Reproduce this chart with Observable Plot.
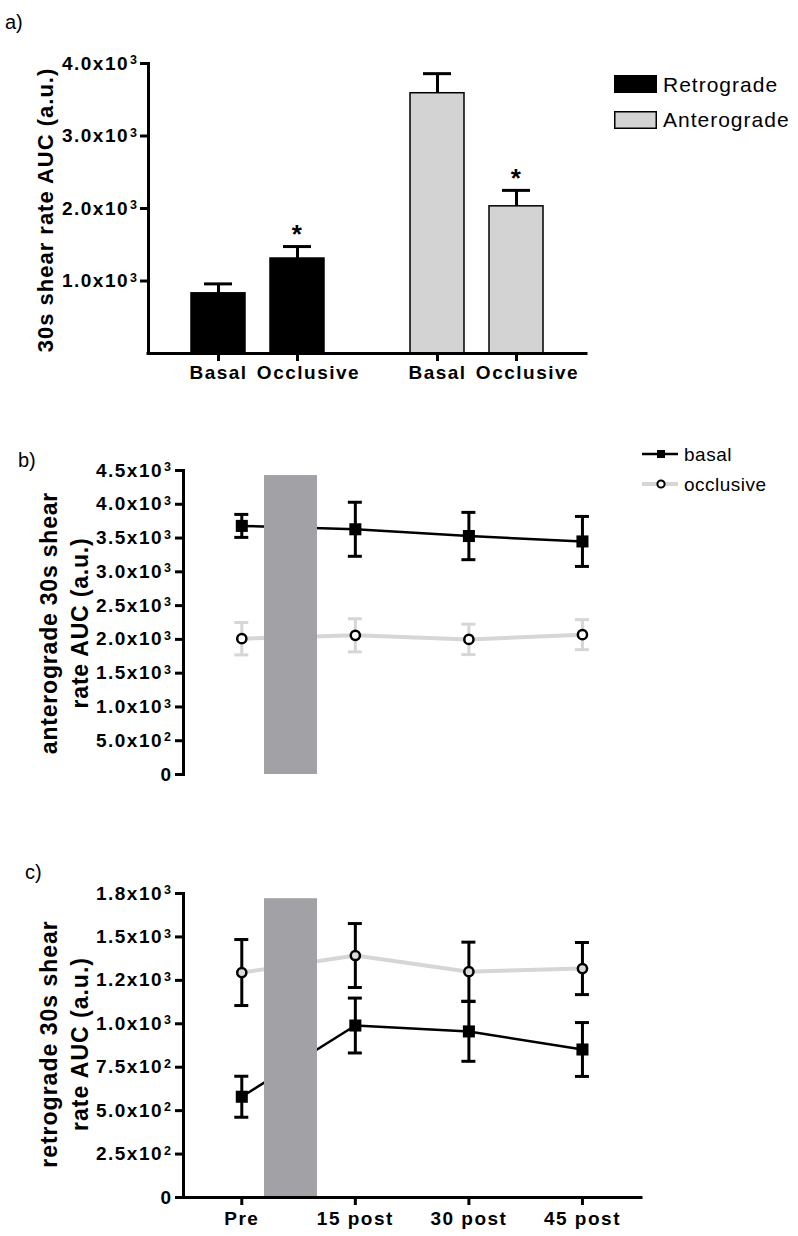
<!DOCTYPE html>
<html><head><meta charset="utf-8">
<script src="https://cdn.jsdelivr.net/npm/d3@7"></script>
<script src="https://cdn.jsdelivr.net/npm/@observablehq/plot@0.6"></script>
<style>
body{margin:0;background:#fff;}
#root{position:relative;width:798px;height:1236px;font-family:"Liberation Sans",Arial,sans-serif;color:#000;overflow:hidden;background:#fff}
#root svg{position:absolute;overflow:visible}
.txt{position:absolute;white-space:nowrap;line-height:1}
</style></head><body><div id="root"></div>
<script>
// ---------- Panel a data ----------
const barGroups = ["Retrograde", "Anterograde"];
const barConditions = ["Basal", "Occlusive"];
const barGroup = ["Retrograde", "Retrograde", "Anterograde", "Anterograde"];
const barCondition = ["Basal", "Occlusive", "Basal", "Occlusive"];
const barMean = [830, 1310, 3590, 2030];
const barSEM = [130, 165, 270, 220];
const barSignificant = [false, true, false, true];
const barColors = ["#000000", "#d3d3d3"];
const yTicksA = [1000, 2000, 3000, 4000];
const yTickLabelsA = ["1.0x10³", "2.0x10³", "3.0x10³", "4.0x10³"];

// ---------- Panels b, c data ----------
const timePoints = [0, 15, 30, 45];
const timeLabels = ["Pre", "15 post", "30 post", "45 post"];
const occlusionWindow = [3, 10];

const anteroBasalMean = [3680, 3630, 3530, 3450];
const anteroBasalSEM = [170, 400, 350, 370];
const anteroOcclMean = [2010, 2060, 2000, 2070];
const anteroOcclSEM = [240, 245, 225, 222];
const anteroShadeTop = 4425;
const yTicksB = [0, 500, 1000, 1500, 2000, 2500, 3000, 3500, 4000, 4500];
const yTickLabelsB = ["0", "5.0x10²", "1.0x10³", "1.5x10³", "2.0x10³", "2.5x10³", "3.0x10³", "3.5x10³", "4.0x10³", "4.5x10³"];

const retroBasalMean = [580, 990, 956, 852];
const retroBasalSEM = [118, 158, 172, 155];
const retroOcclMean = [1295, 1393, 1300, 1318];
const retroOcclSEM = [190, 184, 170, 150];
const retroShadeTop = 1720;
const yTicksC = [0, 250, 500, 750, 1000, 1250, 1500, 1750];
const yTickLabelsC = ["0", "2.5x10²", "5.0x10²", "7.5x10²", "1.0x10³", "1.2x10³", "1.5x10³", "1.8x10³"];

const root = document.getElementById("root");
const SVGNS = "http://www.w3.org/2000/svg";
const FONT = '"Liberation Sans", Arial, sans-serif';
const axisStyle = {fontFamily: FONT, fontSize: "19px", fontWeight: "bold", letterSpacing: "1.5px", background: "transparent", color: "#000", overflow: "visible"};
const TICK_FONT = 19;

function place(el, left, top) { el.style.left = left + "px"; el.style.top = top + "px"; root.appendChild(el); return el; }
function text(str, left, cy, size, opts = {}) {
  const d = document.createElement("div");
  d.className = "txt";
  d.textContent = str;
  d.style.fontSize = size + "px";
  if (opts.bold) d.style.fontWeight = "bold";
  if (opts.spacing) d.style.letterSpacing = opts.spacing + "px";
  return place(d, left, cy - size / 2);
}
function vlabel(lines, cx, cy, size, lh, spacing) {
  const d = document.createElement("div");
  d.style.cssText = `position:absolute;left:${cx}px;top:${cy}px;transform:translate(-50%,-50%) rotate(-90deg);white-space:nowrap;text-align:center;font-weight:bold;font-size:${size}px;line-height:${lh}px;letter-spacing:${spacing}px`;
  lines.forEach((l, i) => { if (i) d.appendChild(document.createElement("br")); d.appendChild(document.createTextNode(l)); });
  root.appendChild(d);
}
// turn "4.0x10³" tick labels into a base + raised exponent, as in the original figure
function superscripts(svg) {
  svg.querySelectorAll("text").forEach(t => {
    const m = t.textContent.match(/^(.*x10)([²³])$/);
    if (!m) return;
    t.textContent = "";
    const base = document.createElementNS(SVGNS, "tspan");
    base.textContent = m[1];
    const sup = document.createElementNS(SVGNS, "tspan");
    sup.textContent = m[2] === "²" ? "2" : "3";
    sup.setAttribute("font-size", "12.5");
    sup.setAttribute("dy", "-5.5");
    sup.setAttribute("dx", "1");
    t.appendChild(base); t.appendChild(sup);
  });
  return svg;
}

// ---------- Panel a ----------
const barData = barGroup.map((g, i) => ({group: g, condition: barCondition[i], mean: barMean[i], sem: barSEM[i], sig: barSignificant[i]}));
const labelMapA = new Map(yTicksA.map((t, i) => [t, yTickLabelsA[i]]));
const plotA = Plot.plot({
  width: 600, height: 360,
  marginLeft: 147, marginRight: 14, marginTop: 23, marginBottom: 47,
  style: axisStyle,
  fx: {domain: barGroups, padding: 0, axis: null},
  x: {domain: barConditions, paddingInner: 0.3125, paddingOuter: 0.53},
  y: {domain: [0, 4000]},
  color: {domain: barGroups, range: barColors},
  marks: [
    Plot.barY(barData, {fx: "group", x: "condition", y: "mean", fill: "group", stroke: "#000", strokeWidth: 1.5}),
    Plot.ruleX(barData, {fx: "group", x: "condition", y1: "mean", y2: d => d.mean + d.sem, stroke: "#000", strokeWidth: 3}),
    Plot.tickY(barData, {fx: "group", x: "condition", y: d => d.mean + d.sem, stroke: "#000", strokeWidth: 3, insetLeft: 13, insetRight: 13}),
    Plot.text(barData.filter(d => d.sig), {fx: "group", x: "condition", y: d => d.mean + d.sem, text: d => "*", dy: -12, fontSize: 26, fontWeight: "bold"}),
    Plot.ruleY([0], {stroke: "#000", strokeWidth: 3, strokeLinecap: "square"}),
    Plot.frame({anchor: "left", facetAnchor: "left", stroke: "#000", strokeWidth: 3}),
    Plot.axisY({ticks: yTicksA, tickFormat: d => labelMapA.get(d), tickSize: 8, tickPadding: 2, stroke: "#000", strokeWidth: 3, fontSize: TICK_FONT, fontWeight: "bold", label: null}),
    Plot.axisX({tickSize: 8, stroke: "#000", strokeWidth: 3, fill: "none", label: null}),
    Plot.text(barData.filter(d => d.condition === "Basal"), {fx: "group", x: "condition", text: "condition", frameAnchor: "bottom", dy: 25, fontSize: TICK_FONT, fontWeight: "bold"}),
    Plot.text(barData.filter(d => d.condition === "Occlusive"), {fx: "group", x: "condition", text: "condition", frameAnchor: "bottom", dy: 25, dx: 11, fontSize: TICK_FONT, fontWeight: "bold"})
  ]
});
place(superscripts(plotA), 0, 40);

// ---------- Panels b and c ----------
function timePlot(cfg) {
  const basal = timePoints.map((t, i) => ({t, mean: cfg.basalMean[i], sem: cfg.basalSEM[i]}));
  const occl = timePoints.map((t, i) => ({t, mean: cfg.occlMean[i], sem: cfg.occlSEM[i]}));
  const caps = arr => arr.flatMap(d => [{t: d.t, y: d.mean + d.sem}, {t: d.t, y: d.mean - d.sem}]);
  const labelMap = new Map(cfg.yTicks.map((t, i) => [t, cfg.yLabels[i]]));
  const xLabelMap = new Map(timePoints.map((t, i) => [t, timeLabels[i]]));
  const shade = [{x1: occlusionWindow[0], x2: occlusionWindow[1], y1: 0, y2: cfg.shadeTop}];
  const marks = [
    Plot.line(occl, {x: "t", y: "mean", stroke: "#d6d6d6", strokeWidth: 4}),
    Plot.line(basal, {x: "t", y: "mean", stroke: "#000", strokeWidth: 2.5}),
    Plot.rect(shade, {x1: "x1", x2: "x2", y1: "y1", y2: "y2", fill: "#a2a2a6"}),
    Plot.ruleX(occl, {x: "t", y1: d => d.mean - d.sem, y2: d => d.mean + d.sem, stroke: cfg.occlErr, strokeWidth: 3}),
    Plot.ruleY(caps(occl), {y: "y", x1: "t", x2: "t", insetLeft: -7, insetRight: -7, stroke: cfg.occlErr, strokeWidth: 3}),
    Plot.ruleX(basal, {x: "t", y1: d => d.mean - d.sem, y2: d => d.mean + d.sem, stroke: "#000", strokeWidth: 3}),
    Plot.ruleY(caps(basal), {y: "y", x1: "t", x2: "t", insetLeft: -7, insetRight: -7, stroke: "#000", strokeWidth: 3}),
    Plot.dot(occl, {x: "t", y: "mean", symbol: "circle", r: 4.6, fill: cfg.occlFill, stroke: "#000", strokeWidth: 2.5}),
    Plot.dot(basal, {x: "t", y: "mean", symbol: "square", r: 6.8, fill: "#000", stroke: "none"}),
    Plot.frame({anchor: "left", stroke: "#000", strokeWidth: 3, strokeLinecap: "square"}),
    Plot.axisY({ticks: cfg.yTicks, tickFormat: d => labelMap.get(d), tickSize: 8, tickPadding: 3, stroke: "#000", strokeWidth: 3, fontSize: TICK_FONT, fontWeight: "bold", label: null})
  ];
  if (cfg.showX) {
    marks.push(Plot.ruleY([0], {stroke: "#000", strokeWidth: 3, strokeLinecap: "square"}));
    marks.push(Plot.axisX({ticks: timePoints, tickFormat: d => xLabelMap.get(d), tickSize: 8, tickPadding: 6, stroke: "#000", strokeWidth: 3, fontSize: TICK_FONT, fontWeight: "bold", label: null}));
  }
  return Plot.plot({
    width: 660, height: cfg.height,
    marginLeft: 183, marginRight: 19, marginTop: cfg.marginTop, marginBottom: cfg.marginBottom,
    style: axisStyle,
    x: {domain: [-7.7, 52.8], axis: cfg.showX ? undefined : null},
    y: {domain: [0, cfg.yMax]},
    marks
  });
}

const plotB = timePlot({
  basalMean: anteroBasalMean, basalSEM: anteroBasalSEM, occlMean: anteroOcclMean, occlSEM: anteroOcclSEM,
  yMax: 4500, yTicks: yTicksB, yLabels: yTickLabelsB, shadeTop: anteroShadeTop,
  occlErr: "#d6d6d6", occlFill: "#ffffff", showX: false, height: 360, marginTop: 30, marginBottom: 26
});
place(superscripts(plotB), 0, 440);

const plotC = timePlot({
  basalMean: retroBasalMean, basalSEM: retroBasalSEM, occlMean: retroOcclMean, occlSEM: retroOcclSEM,
  yMax: 1750, yTicks: yTicksC, yLabels: yTickLabelsC, shadeTop: retroShadeTop,
  occlErr: "#000", occlFill: "#d9d9d9", showX: true, height: 376, marginTop: 33, marginBottom: 39
});
place(superscripts(plotC), 0, 860);

// ---------- Panel letters ----------
text("a)", 5, 22, 20);
text("b)", 18, 460, 20);
text("c)", 25, 872, 20);

// ---------- Axis titles ----------
vlabel(["30s shear rate AUC (a.u.)"], 46, 210, 22, 26, 1);
vlabel(["anterograde 30s shear", "rate AUC (a.u.)"], 65, 623, 23, 31, 0.8);
vlabel(["retrograde 30s shear", "rate AUC (a.u.)"], 64.5, 1044, 23, 31, 1);

// ---------- Legend a ----------
const legA = document.createElementNS(SVGNS, "svg");
legA.setAttribute("width", 50); legA.setAttribute("height", 60);
legA.innerHTML = `<rect x="0" y="0" width="43" height="18" fill="${barColors[0]}"/>
<rect x="0.75" y="36.75" width="41.5" height="16.5" fill="${barColors[1]}" stroke="#000" stroke-width="1.5"/>`;
place(legA, 614, 75);
text(barGroups[0], 663, 84, 21, {spacing: 1});
text(barGroups[1], 663, 119, 21, {spacing: 1});

// ---------- Legend b ----------
const legB = document.createElementNS(SVGNS, "svg");
legB.setAttribute("width", 50); legB.setAttribute("height", 50);
legB.innerHTML = `<line x1="7" x2="43" y1="14" y2="14" stroke="#000" stroke-width="2.5"/>
<rect x="22" y="10" width="8" height="8" fill="#000"/>
<line x1="7" x2="43" y1="44" y2="44" stroke="#d6d6d6" stroke-width="4"/>
<circle cx="26" cy="44" r="3.6" fill="#fff" stroke="#000" stroke-width="2"/>`;
place(legB, 635, 440);
text("basal", 684, 454, 19, {spacing: 0.5});
text("occlusive", 684, 484, 19, {spacing: 0.5});
</script></body></html>
